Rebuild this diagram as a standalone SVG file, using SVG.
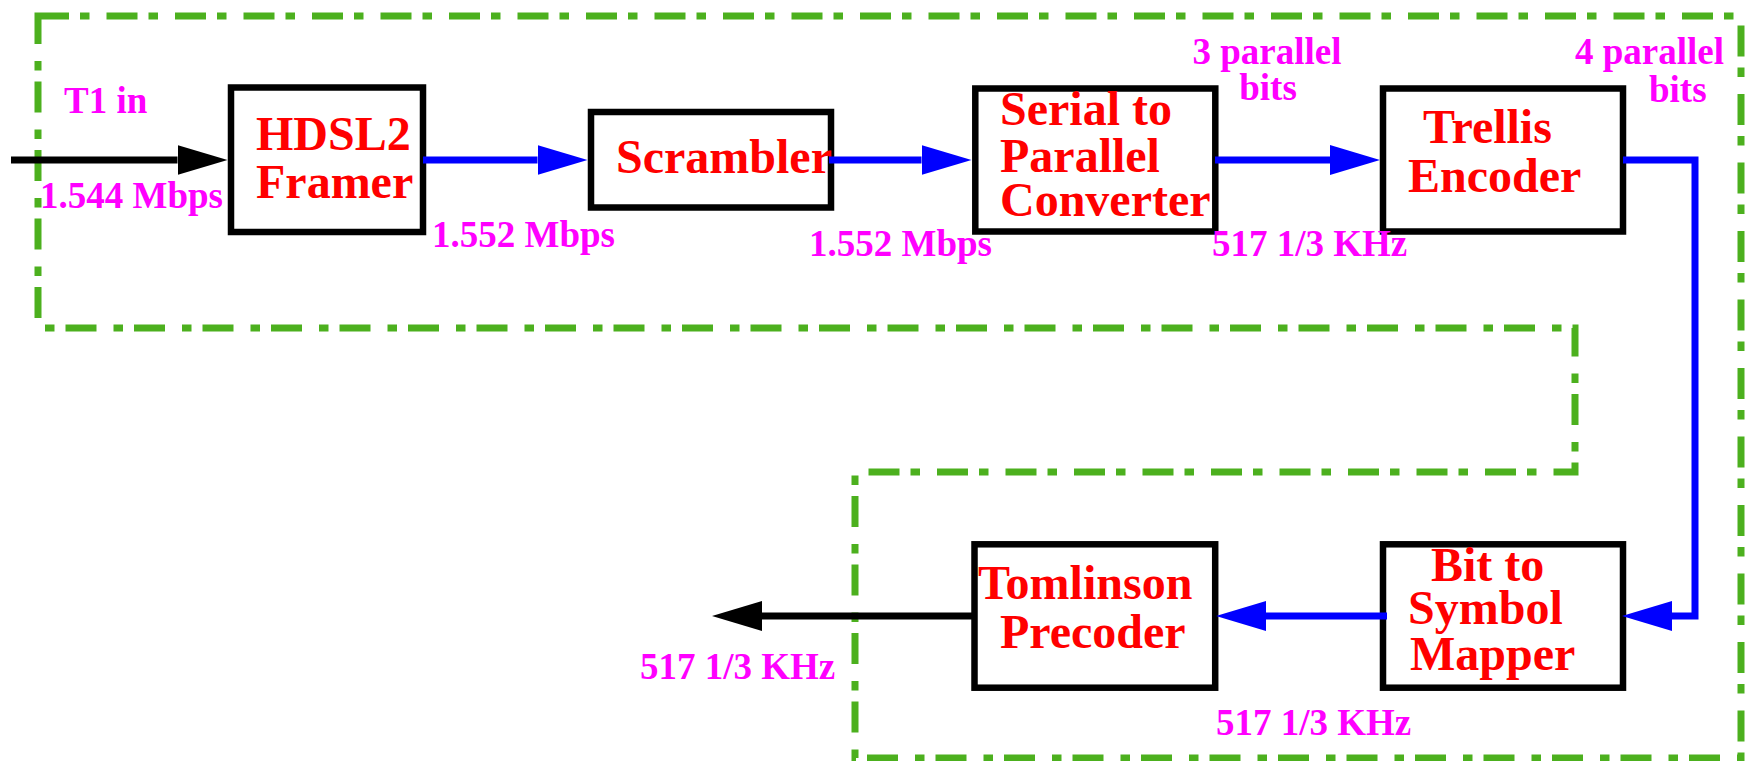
<svg xmlns="http://www.w3.org/2000/svg" width="1745" height="761" viewBox="0 0 1745 761">
<style>
.box{fill:#ffffff;stroke:#000000;stroke-width:6.5}
.nt{font-family:"Liberation Serif","Times New Roman",serif;font-weight:bold;font-size:48px;fill:#ff0000}
.lb{font-family:"Liberation Serif","Times New Roman",serif;font-weight:bold;font-size:37px;fill:#ff00ff}
.blue{fill:none;stroke:#0000ff;stroke-width:7}
.black{fill:none;stroke:#000000;stroke-width:7}
.frame{fill:none;stroke:#4cb01e;stroke-width:7;stroke-dasharray:31 11 9.5 17}
</style>
<defs>
<marker id="ab" viewBox="0 0 50 30" refX="0" refY="15" markerWidth="50" markerHeight="30" markerUnits="userSpaceOnUse" orient="auto">
<path d="M0,0 L50,15 L0,30 Z" fill="#0000ff"/>
</marker>
<marker id="ak" viewBox="0 0 50 30" refX="0" refY="15" markerWidth="50" markerHeight="30" markerUnits="userSpaceOnUse" orient="auto">
<path d="M0,0 L50,15 L0,30 Z" fill="#000000"/>
</marker>
</defs>
<rect x="0" y="0" width="1745" height="761" fill="#ffffff"/>
<g id="frame">
<path class="frame" d="M38,16 H1741 V758 H855 V472 H1575 V328 H38 Z"/>
</g>
<g id="framer">
<rect class="box" x="231" y="87.5" width="192" height="144.5"/>
<text class="nt" x="256" y="150">HDSL2</text>
<text class="nt" x="256" y="198">Framer</text>
</g>
<g id="scrambler">
<rect class="box" x="591" y="112" width="240" height="95.5"/>
<text class="nt" x="616" y="173">Scrambler</text>
</g>
<g id="s2p">
<rect class="box" x="975.3" y="88.5" width="240" height="143"/>
<text class="nt" x="1000" y="125">Serial to</text>
<text class="nt" x="1000" y="172">Parallel</text>
<text class="nt" x="1000" y="216">Converter</text>
</g>
<g id="trellis">
<rect class="box" x="1383" y="88.5" width="240" height="143"/>
<text class="nt" x="1423" y="143">Trellis</text>
<text class="nt" x="1408" y="192">Encoder</text>
</g>
<g id="mapper">
<rect class="box" x="1383" y="544.3" width="240" height="143.4"/>
<text class="nt" x="1431" y="581">Bit to</text>
<text class="nt" x="1408" y="624">Symbol</text>
<text class="nt" x="1410" y="670">Mapper</text>
</g>
<g id="tomlinson">
<rect class="box" x="974.5" y="544.3" width="240.7" height="143.4"/>
<text class="nt" x="978" y="599">Tomlinson</text>
<text class="nt" x="1000" y="648">Precoder</text>
</g>
<g id="connectors">
<path class="black" d="M11,160 H177.5" marker-end="url(#ak)"/>
<path class="blue" d="M423,160 H537.5" marker-end="url(#ab)"/>
<path class="blue" d="M829,160 H921.5" marker-end="url(#ab)"/>
<path class="blue" d="M1215,160 H1330" marker-end="url(#ab)"/>
<path class="blue" d="M1623,160 H1695 V616 H1672" marker-end="url(#ab)"/>
<path class="blue" d="M1387,616 H1266" marker-end="url(#ab)"/>
<path class="black" d="M974.5,616 H762" marker-end="url(#ak)"/>
</g>
<g id="labels">
<text class="lb" x="64" y="113">T1 in</text>
<text class="lb" x="40" y="208">1.544 Mbps</text>
<text class="lb" x="432" y="247">1.552 Mbps</text>
<text class="lb" x="809" y="256">1.552 Mbps</text>
<text class="lb" x="1267" y="64" text-anchor="middle">3 parallel</text>
<text class="lb" x="1268" y="100" text-anchor="middle">bits</text>
<text class="lb" x="1575" y="64">4 parallel</text>
<text class="lb" x="1649" y="102">bits</text>
<text class="lb" x="1212" y="256">517 1/3 KHz</text>
<text class="lb" x="640" y="679">517 1/3 KHz</text>
<text class="lb" x="1216" y="735">517 1/3 KHz</text>
</g>
</svg>
